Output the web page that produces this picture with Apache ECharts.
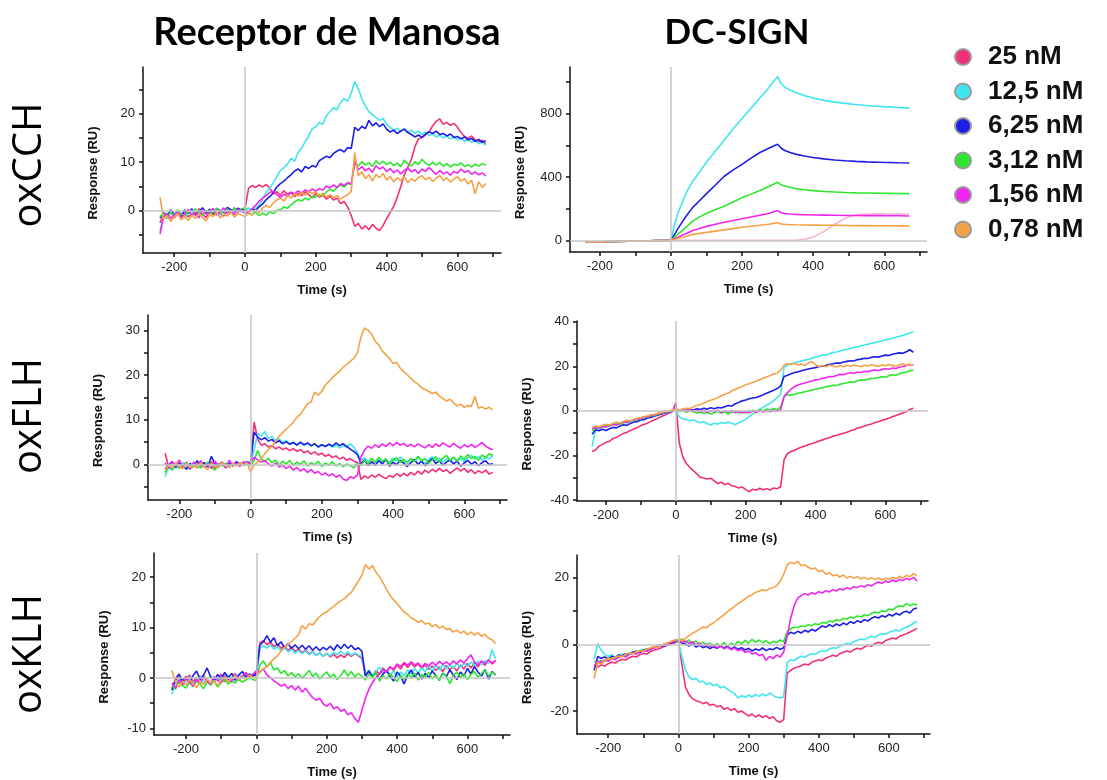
<!DOCTYPE html>
<html>
<head>
<meta charset="utf-8">
<script src="https://cdn.jsdelivr.net/npm/echarts@6/dist/echarts.min.js"></script>
<style>
html,body{margin:0;padding:0;background:#fff;}
#chart{width:1107px;height:780px;}
</style>
</head>
<body>
<div id="chart"></div>
<script>
// ---------- DATA ----------
const seriesNames = ['25 nM', '12,5 nM', '6,25 nM', '3,12 nM', '1,56 nM', '0,78 nM'];
const columnTitles = ['Receptor de Manosa', 'DC-SIGN'];
const rowTitles = ['oxCCH', 'oxFLH', 'oxKLH'];

// sampling times (s) of the noisy sensorgrams
const timeS = [-240,-230,-220,-210,-200,-190,-180,-170,-160,-150,-140,-130,-120,-110,-100,-90,-80,-70,-60,-50,-40,-30,-20,-10,
0,10,20,30,40,50,60,70,80,90,100,110,120,130,140,150,160,170,180,190,200,210,220,230,240,250,260,270,280,290,300,
310,320,330,340,350,360,370,380,390,400,410,420,430,440,450,460,470,480,490,500,510,520,530,540,550,560,570,580,590,600,610,620,630,640,650,660,670,680];
// sampling times (s) of the smooth oxCCH / DC-SIGN curves
const timeCchDc = [-240,-200,-160,-120,-80,-40,0,5,10,20,30,45,60,80,100,125,150,175,200,225,250,275,300,305,310,320,335,350,375,400,430,460,490,520,550,580,610,640,670];

// oxCCH - Receptor de Manosa
const cch_mr_25 = [-2.5,-0.8,-1.2,-0.3,-1.5,-0.6,-1.0,0.2,-1.3,-0.5,-0.9,0.4,-0.7,-1.4,-0.2,-0.8,0.3,-0.6,-1.1,0.1,-0.4,0.6,-0.3,0.2,
0.3,4.6,5.2,4.8,5.3,4.9,5.4,4.7,3.5,3.9,3.2,4.1,3.4,3.8,2.9,3.6,3.1,3.9,3.3,2.7,3.5,2.8,3.2,2.4,3.0,2.2,2.6,1.5,1.9,0.8,-1.0,
-3.2,-2.6,-3.8,-3.1,-3.9,-2.8,-3.6,-4.1,-3.0,-1.6,-0.4,0.9,2.8,5.0,7.4,9.0,10.6,13.2,14.8,15.1,15.6,16.2,17.5,18.4,18.9,17.8,18.2,17.6,18.0,17.2,16.1,15.3,14.9,15.4,14.6,14.2,14.5,13.8];
const cch_mr_12 = [-4.2,-1.0,-1.6,-0.5,-1.2,-0.2,-0.9,-1.5,-0.4,-0.8,0.3,-0.6,-1.0,-0.1,-0.7,0.2,-0.5,-0.9,0.4,-0.3,0.1,-0.4,0.5,-0.2,
0.2,0.6,-0.2,0.5,1.2,2.4,3.9,4.6,5.8,7.1,8.3,8.9,9.6,10.8,10.2,12.0,12.9,14.2,15.4,16.9,17.3,18.2,17.8,19.6,20.4,21.2,20.8,22.3,23.1,22.6,24.2,
26.6,25.1,23.0,21.6,20.4,19.8,19.2,18.6,19.0,17.8,17.2,16.5,17.0,16.3,16.9,16.1,16.6,15.9,16.4,15.7,16.2,15.5,15.9,15.2,15.6,15.0,15.4,14.8,15.2,14.6,15.0,14.3,14.7,14.1,14.5,13.8,14.1,13.5];
const cch_mr_625 = [-1.5,-0.4,-1.1,0.2,-0.7,-0.3,-1.2,0.1,-0.5,0.4,-0.8,-0.2,0.6,-0.4,0.3,-0.6,0.5,0.0,-0.3,0.7,0.2,-0.1,0.5,0.1,
0.3,-0.2,0.4,0.1,0.8,1.4,2.3,2.9,3.7,4.9,5.6,6.1,6.8,7.4,8.2,8.6,8.0,9.1,8.7,9.3,9.0,10.3,10.8,11.2,10.9,11.8,12.3,12.6,12.1,13.0,12.8,
17.2,16.5,17.4,16.9,18.6,17.5,18.1,17.3,17.9,16.8,16.2,16.6,15.9,16.4,16.8,16.1,15.7,15.2,15.6,15.1,15.8,16.3,15.9,16.4,15.7,15.9,15.4,15.8,15.1,15.3,14.8,15.2,14.6,14.9,14.3,14.7,14.1,14.4];
const cch_mr_312 = [-1.2,-0.6,-1.4,-0.3,-0.9,0.2,-0.7,-1.1,-0.2,-0.8,0.4,-0.5,-1.0,0.1,-0.6,-0.3,0.5,-0.4,-0.1,0.3,-0.5,0.6,-0.2,0.4,
0.6,-0.4,-0.8,-0.3,-1.0,-0.5,-0.9,-0.2,-0.6,0.1,0.2,0.8,0.5,1.2,1.8,2.3,2.0,2.6,2.2,3.0,2.8,3.4,3.1,3.9,4.4,4.0,4.8,5.3,4.9,5.6,5.4,
9.8,9.2,10.1,9.4,9.9,9.1,10.3,9.6,10.2,9.5,10.0,9.3,9.8,9.1,10.4,9.7,9.2,10.1,9.5,10.6,9.8,9.3,10.0,9.4,9.9,9.2,9.7,9.0,9.6,9.3,9.9,9.1,9.5,9.0,9.6,9.2,9.7,9.4];
const cch_mr_156 = [-4.8,-1.3,-0.5,-1.6,-0.8,-0.2,-1.4,-0.6,0.3,-1.0,-0.4,-1.5,0.2,-0.7,-0.3,0.5,-0.9,-0.2,0.6,-0.5,0.1,-0.8,0.3,0.0,
-0.5,-0.2,0.4,1.1,2.0,2.6,3.1,3.8,4.0,3.3,2.7,3.4,3.0,3.8,3.5,4.1,3.6,4.3,3.9,4.5,4.0,4.6,4.2,5.1,4.7,5.3,4.8,5.6,5.2,5.8,5.5,
10.2,8.4,9.1,8.2,8.8,7.9,9.3,8.6,9.0,8.1,8.7,7.8,8.4,7.6,8.3,8.8,8.0,8.5,7.7,8.6,8.1,8.9,8.2,7.5,8.3,7.6,8.0,7.3,8.1,7.7,8.6,7.9,8.3,7.5,8.0,7.4,7.8,7.2];
const cch_mr_078 = [2.8,-1.8,-1.0,-2.2,-1.3,-0.6,-1.9,-1.1,-2.0,-0.9,-1.6,-0.5,-1.4,-2.1,-0.8,-1.2,-0.4,-1.5,-0.7,-1.1,-0.3,-1.3,-0.6,-0.9,
-1.2,-0.5,-0.9,0.2,-0.4,0.6,1.1,0.7,1.6,2.2,2.6,2.0,3.1,2.6,3.5,3.0,3.8,3.2,4.0,3.5,3.9,3.0,3.6,2.8,3.3,2.7,3.1,2.4,2.9,3.3,4.0,
12.0,7.2,8.0,6.6,7.4,6.1,7.5,6.8,7.7,6.3,7.1,5.9,6.8,6.2,7.0,5.8,6.6,6.1,6.9,7.2,6.4,6.9,6.0,6.7,7.3,6.2,6.8,5.9,6.5,7.0,6.1,6.6,5.5,6.3,3.5,6.0,4.8,5.6];

// oxCCH - DC-SIGN
const cch_dc_25 = [-14,-11,-9,-6,-4,-2,0,0,0,0,0,0,0,0,0,0,0,0,0,0,0,0,0,0,0,0,0,0,6,20,55,100,140,162,166,167,166,167,166];
const cch_dc_12 = [-12,-10,-8,-6,-4,-2,0,50,100,175,230,310,370,430,495,565,635,705,770,835,900,965,1036,1010,990,968,950,935,915,900,885,874,866,859,853,848,844,840,836];
const cch_dc_625 = [-12,-10,-8,-6,-4,-2,0,18,38,75,110,160,205,250,295,350,405,445,480,520,555,582,608,595,582,568,555,545,533,524,515,508,503,499,496,494,492,490,489];
const cch_dc_312 = [-12,-10,-8,-6,-4,-2,0,10,20,40,58,88,120,148,170,195,216,242,270,292,315,340,367,358,350,343,335,328,320,314,309,305,302,300,299,298,297,296,295];
const cch_dc_156 = [-12,-10,-8,-6,-4,-2,0,5,10,20,30,45,60,74,88,102,114,125,136,147,158,170,188,180,174,169,166,164,162,160,159,158,157,157,156,156,155,155,154];
const cch_dc_078 = [-12,-10,-8,-6,-4,-2,0,3,6,12,18,26,36,44,50,58,66,74,83,89,95,102,112,106,103,101,99,98,97,96,95,95,94,93,93,92,92,91,91];

// oxFLH - Receptor de Manosa
const flh_mr_25 = [2.5,-0.6,-1.2,0.3,-0.8,-0.2,0.5,-1.0,-0.3,0.4,-0.7,0.1,-0.5,0.6,-0.9,-0.1,0.3,-0.6,0.2,-0.4,0.5,-0.2,0.1,0.4,
0.2,9.5,5.6,4.3,4.6,3.9,4.2,3.5,3.9,3.3,3.7,3.1,3.5,2.9,3.3,2.6,3.0,2.3,2.8,2.1,2.5,1.8,2.2,1.5,1.9,1.2,1.6,0.9,1.3,0.7,0.4,
-3.4,-2.6,-3.1,-2.4,-2.9,-2.2,-2.8,-3.2,-2.5,-2.9,-2.1,-2.7,-2.0,-2.6,-1.8,-2.4,-1.5,-2.2,-1.3,-1.9,-1.1,-1.7,-0.9,-1.6,-1.2,-2.0,-1.4,-0.8,-1.5,-0.9,-1.8,-1.2,-2.1,-1.4,-1.9,-1.3,-2.2,-1.8];
const flh_mr_12 = [-2.8,-0.5,-1.3,-0.2,-0.9,0.4,-0.6,-1.1,0.2,-0.4,-0.8,0.3,-0.3,-0.9,0.1,-0.5,0.5,-0.2,-0.7,0.3,-0.1,0.4,-0.3,0.2,
0.5,3.2,7.0,6.3,7.4,5.9,6.2,5.4,5.7,4.9,5.3,4.6,5.0,4.4,4.9,4.2,4.7,4.1,4.6,3.9,4.4,4.0,4.5,3.8,4.3,3.7,4.2,3.9,4.6,3.8,2.6,
0.8,1.5,0.6,1.3,0.4,1.1,0.2,1.0,0.5,1.4,0.7,1.6,0.9,0.3,1.2,0.6,1.5,0.8,0.2,1.1,1.7,0.9,1.4,0.5,1.2,0.7,1.6,0.9,1.3,0.6,1.5,2.0,1.1,1.8,0.9,1.6,1.2,1.9];
const flh_mr_625 = [-1.0,-0.2,0.6,-0.7,0.3,-0.4,-1.1,0.2,-0.5,0.8,-0.3,0.4,-0.6,1.8,0.1,-0.4,0.5,-0.8,0.2,-0.3,0.6,-0.1,0.3,0.5,
0.3,7.2,6.1,5.5,6.0,5.2,5.6,4.8,5.3,4.6,5.1,4.5,4.9,4.3,5.0,4.4,4.8,4.2,4.6,3.9,4.4,4.0,4.5,4.1,4.8,4.2,4.6,4.0,3.4,2.9,2.2,
0.2,1.0,-0.3,0.6,-0.2,0.8,0.1,1.2,-0.4,0.5,-0.1,0.9,0.3,-0.5,0.4,1.1,0.0,0.7,-0.3,0.6,1.3,0.2,0.8,-0.2,0.5,1.0,0.1,0.7,-0.4,0.3,0.9,0.0,0.6,-0.3,0.4,0.8,-0.1,0.2];
const flh_mr_312 = [-1.8,-0.4,-1.2,0.2,-0.9,-0.3,0.4,-1.0,-0.5,0.3,-0.8,-0.2,0.5,-0.6,-1.3,0.1,-0.4,0.3,-0.7,0.2,-0.3,0.4,-0.2,0.1,
-0.2,0.8,3.1,1.2,0.6,1.4,0.3,1.0,-0.2,0.7,0.1,0.9,-0.3,0.5,0.0,0.8,-0.4,0.4,-0.1,0.7,-0.5,0.3,-0.2,0.6,-0.4,0.2,-0.6,0.1,-0.3,-0.8,0.2,
-0.3,0.9,0.2,1.3,0.5,1.6,0.7,1.2,0.1,0.9,1.5,0.4,1.1,0.3,1.4,0.6,1.8,0.8,1.3,0.2,1.0,1.7,0.5,1.4,2.0,0.9,1.6,0.7,1.9,1.1,2.2,1.3,1.8,0.9,2.1,1.5,2.4,2.0];
const flh_mr_156 = [0.3,-0.9,0.6,-0.4,1.0,-0.7,0.2,-1.1,0.5,-0.3,0.8,-0.6,0.1,-0.9,0.7,-0.2,0.4,-0.8,0.9,-0.1,0.3,-0.5,0.6,0.0,
0.4,1.6,1.0,0.5,0.8,0.1,-0.4,0.3,-0.6,-0.2,-0.9,-0.4,-1.3,-0.7,-1.5,-1.0,-1.8,-1.2,-2.0,-1.6,-2.4,-1.9,-2.6,-2.1,-2.9,-2.4,-3.3,-3.6,-2.8,-3.1,-2.4,
1.6,3.2,4.1,3.6,4.4,3.8,4.6,4.0,4.8,4.2,4.9,4.3,4.7,4.0,4.5,3.9,4.6,4.1,3.7,4.4,3.8,4.6,4.0,4.8,4.3,3.9,4.7,4.1,3.6,4.4,3.9,4.5,3.8,4.3,4.9,4.1,3.6,3.3];
const flh_mr_078 = [-1.3,-0.2,-0.8,0.4,-0.5,-1.0,0.2,-0.7,-0.1,-0.9,0.3,-0.6,-1.2,0.1,-0.4,-0.8,0.5,-0.3,-0.7,0.2,-0.4,0.3,-0.1,0.4,
-1.8,-0.2,0.6,1.3,2.4,3.3,4.1,5.2,6.3,7.1,7.9,8.6,9.4,10.6,11.2,12.4,13.6,14.0,16.2,15.5,16.4,17.8,18.6,19.5,20.2,20.9,21.8,22.4,23.1,23.8,25.0,
28.6,30.6,30.1,29.2,27.6,26.8,25.4,24.6,23.8,22.6,22.9,21.6,20.8,20.1,19.3,18.5,18.0,17.2,16.8,16.4,15.9,16.2,15.3,14.8,14.2,14.6,13.8,13.1,13.5,12.8,13.2,13.0,15.2,12.6,12.9,12.4,12.8,12.2];

// oxFLH - DC-SIGN
const flh_dc_25 = [-18.2,-17.5,-15.8,-15.0,-14.1,-13.6,-12.4,-11.9,-11.0,-10.1,-9.6,-8.8,-8.1,-7.5,-6.6,-6.0,-5.4,-4.6,-3.9,-3.2,-2.4,-1.8,-1.0,-0.4,
3.8,-14.5,-20.6,-23.6,-25.3,-26.8,-28.2,-29.8,-30.1,-30.5,-30.2,-31.4,-32.6,-32.0,-33.1,-32.4,-33.6,-33.9,-34.6,-34.1,-35.3,-36.2,-35.1,-35.6,-34.7,-35.4,-34.9,-35.5,-34.6,-34.9,-34.0,
-21.8,-19.1,-18.2,-17.6,-16.9,-16.2,-15.8,-15.1,-14.6,-14.2,-13.5,-13.0,-12.4,-12.0,-11.3,-11.0,-10.5,-10.0,-9.6,-8.9,-8.5,-7.7,-7.4,-6.8,-6.3,-5.9,-5.2,-4.9,-4.2,-3.8,-3.3,-2.6,-2.1,-1.5,-0.9,-0.3,0.6,1.2];
const flh_dc_12 = [-16.0,-8.4,-8.0,-7.3,-7.0,-6.6,-6.1,-6.3,-5.6,-5.1,-5.3,-4.6,-4.2,-3.6,-3.5,-3.0,-2.6,-2.2,-2.1,-1.5,-1.1,-0.9,-0.4,0.1,
0.3,-2.8,-3.5,-3.9,-4.4,-4.0,-4.8,-5.3,-4.9,-5.8,-6.3,-5.5,-5.9,-5.2,-5.7,-5.0,-5.6,-6.1,-5.3,-4.6,-3.8,-2.5,-1.4,-0.3,0.8,1.6,2.5,3.4,4.6,5.8,7.4,
19.6,20.4,21.1,21.5,22.0,22.3,22.8,23.1,23.6,24.2,24.5,25.1,25.0,25.6,26.2,26.4,26.9,27.3,27.6,28.1,28.4,28.6,29.2,29.5,29.9,30.3,30.6,31.0,31.3,31.9,32.1,32.6,33.0,33.5,33.8,34.4,34.9,35.4];
const flh_dc_625 = [-10.5,-8.6,-8.9,-8.2,-8.8,-8.0,-7.4,-7.6,-6.8,-6.2,-6.5,-5.6,-5.0,-4.8,-4.1,-3.9,-3.2,-2.8,-2.3,-1.8,-1.4,-0.9,-0.5,0.0,
0.6,0.1,0.4,0.2,0.7,0.4,0.9,0.6,1.2,0.8,1.4,1.0,1.5,1.3,1.9,2.4,2.1,3.2,3.8,4.5,4.9,5.4,5.8,6.0,6.6,7.2,7.9,8.6,9.2,10.0,11.2,
15.4,16.0,16.6,17.2,17.5,18.0,18.4,18.8,19.1,19.4,19.9,20.0,20.4,20.9,21.1,21.5,21.4,21.9,22.2,22.5,22.4,23.0,23.2,23.6,23.5,24.0,24.3,24.1,24.6,25.0,24.8,25.4,25.7,26.0,25.8,26.5,27.4,26.3];
const flh_dc_312 = [-9.0,-7.5,-7.9,-7.1,-6.7,-6.9,-6.2,-5.8,-6.0,-5.3,-4.8,-4.9,-4.2,-3.8,-3.6,-3.0,-2.7,-2.2,-2.0,-1.5,-1.1,-0.7,-0.3,0.2,
0.4,-0.3,0.2,-0.6,0.1,-0.4,-1.0,-0.5,-1.2,-0.6,-1.4,-0.8,-0.3,-1.1,-0.5,-1.3,-0.7,-0.2,-1.0,-0.4,-0.9,-0.2,0.3,-0.4,0.5,0.1,0.8,0.3,1.1,0.6,1.8,
6.6,7.3,7.0,7.6,7.9,8.2,8.6,8.9,9.4,9.7,10.0,10.4,10.8,11.1,11.5,11.4,11.9,12.3,12.6,13.0,12.8,13.5,13.9,13.7,14.2,14.6,14.5,15.0,15.3,15.1,15.8,16.2,16.0,16.7,17.1,17.4,17.9,18.3];
const flh_dc_156 = [-8.0,-7.4,-7.6,-6.9,-7.2,-6.5,-6.0,-6.3,-5.5,-5.0,-5.2,-4.4,-4.0,-3.7,-3.3,-2.8,-2.5,-2.0,-1.7,-1.2,-0.9,-0.5,-0.2,0.3,
0.8,0.2,0.6,-0.1,0.5,-0.3,0.4,-0.5,0.2,-0.6,0.1,-0.4,0.3,-0.7,0.0,-0.5,0.2,-0.8,-0.2,-1.0,-0.3,-0.9,-0.1,-0.7,0.2,-0.5,0.1,-0.4,0.3,-0.2,0.5,
6.4,8.2,9.8,10.9,11.6,12.2,12.5,13.1,13.4,13.9,14.1,14.6,14.9,15.4,15.3,15.9,16.4,16.2,16.8,17.1,16.9,17.4,17.2,17.8,17.6,18.1,18.4,18.0,18.6,18.9,18.7,19.2,19.0,19.6,19.9,20.3,20.8,20.5];
const flh_dc_078 = [-7.5,-6.8,-7.2,-6.4,-6.0,-6.3,-5.6,-5.1,-5.4,-4.7,-4.2,-4.5,-3.8,-3.3,-3.0,-2.5,-2.2,-1.7,-1.5,-1.0,-0.6,-0.3,0.1,0.4,
0.6,0.3,0.9,1.2,1.0,1.8,2.4,2.9,3.4,4.2,4.8,5.3,5.9,6.8,7.5,7.9,9.0,9.6,10.4,10.9,11.8,12.2,12.8,13.3,14.0,14.6,15.2,15.9,16.5,17.0,18.2,
20.5,21.2,20.8,21.4,20.6,21.0,20.3,21.6,22.1,20.7,19.9,20.4,19.8,20.6,20.1,19.7,20.3,19.8,20.5,20.0,20.6,20.2,19.8,20.5,20.1,20.7,20.3,19.9,20.6,20.2,20.8,20.4,20.0,20.6,21.1,20.5,21.0,20.3];

// oxKLH - Receptor de Manosa
const klh_mr_25 = [-2.0,-0.5,0.3,-1.2,-0.3,0.6,-0.8,0.1,-1.0,0.4,-0.6,-1.3,0.2,-0.4,0.8,-0.7,0.3,-0.2,0.9,-0.5,0.4,1.1,0.2,0.7,
1.0,7.0,7.4,6.6,7.1,6.2,6.8,5.9,6.3,5.5,6.1,5.3,5.8,5.0,5.6,4.8,5.3,4.5,5.0,4.3,4.9,4.2,4.7,4.0,4.6,4.1,4.8,4.3,4.9,4.4,3.9,
0.6,1.3,0.4,1.5,0.8,2.0,1.2,2.3,1.5,2.6,1.8,2.9,2.1,3.0,2.2,2.8,1.9,2.6,1.7,2.4,1.5,2.2,1.3,2.5,1.6,2.3,1.4,2.6,1.8,2.9,2.0,3.1,2.2,3.3,2.5,3.6,2.8,3.4];
const klh_mr_12 = [-3.2,-1.0,-0.3,-1.5,-0.6,0.2,-1.1,-0.4,0.5,-0.8,-0.2,0.4,-0.9,0.1,-0.5,0.6,-0.3,0.3,-0.6,0.8,0.0,0.5,-0.2,0.4,
0.6,5.8,6.4,5.9,6.6,5.7,6.2,5.4,6.0,5.2,5.7,4.9,5.5,4.8,5.4,4.6,5.2,4.5,5.0,4.3,4.9,4.4,5.1,4.6,5.3,4.7,5.2,4.5,5.0,4.6,4.2,
0.8,1.6,0.5,1.3,2.2,0.9,1.7,0.6,1.4,0.3,1.2,0.5,1.6,0.8,1.9,1.0,2.1,1.2,2.3,1.4,2.5,1.6,2.7,1.8,2.6,2.0,2.9,2.1,3.0,2.3,3.2,2.5,3.4,2.6,3.5,2.9,5.6,3.8];
const klh_mr_625 = [-2.4,-0.2,0.8,-0.6,0.3,-1.0,0.5,1.4,-0.3,0.6,2.0,0.2,-0.5,0.7,-0.2,1.1,0.1,0.9,-0.4,0.6,1.3,0.2,0.8,0.4,
0.8,6.5,7.2,8.4,7.1,8.0,6.4,7.2,6.0,6.8,5.9,6.6,5.8,6.5,5.7,6.4,5.5,6.2,5.4,6.1,5.6,6.3,5.5,6.6,5.8,6.7,5.9,6.5,5.6,6.0,5.3,
0.4,1.4,0.2,1.0,-0.3,0.8,1.5,0.3,-0.6,1.2,0.4,-1.2,0.6,1.6,0.2,1.1,-0.2,0.9,0.1,1.4,0.5,-0.4,1.0,0.3,1.6,0.6,-0.3,1.2,0.4,1.9,0.8,2.3,1.2,0.4,1.7,-0.2,1.3,0.6];
const klh_mr_312 = [-1.6,-2.2,-0.8,-1.5,-2.0,-0.9,-1.7,-0.6,-1.3,-2.1,-0.7,-1.4,-0.5,-1.8,-0.9,-0.3,-1.2,-0.6,-1.0,-0.2,-0.8,-0.4,0.1,-0.3,
-0.5,2.6,3.4,2.2,3.1,1.6,2.0,0.9,1.5,0.4,1.1,0.2,0.9,-0.1,0.7,1.5,0.3,1.0,-0.2,0.6,1.2,0.1,0.8,-0.3,0.5,1.6,0.4,1.3,0.2,0.9,0.3,
-0.4,0.8,0.1,1.1,-0.6,0.5,-0.2,0.9,0.0,-0.7,0.6,-0.3,0.8,0.1,1.0,-0.4,0.7,0.2,1.1,-0.2,0.6,-0.5,0.9,0.3,-1.1,0.5,1.2,0.1,0.8,-0.3,0.7,1.3,0.2,0.9,1.6,0.4,1.1,0.7];
const klh_mr_156 = [-1.0,-2.0,-0.4,-1.3,0.2,-0.8,-1.6,-0.3,-1.0,0.1,-0.6,-1.2,0.3,-0.5,-0.9,0.4,-0.2,-0.7,0.6,-0.1,0.3,1.0,0.2,0.8,
1.4,1.2,1.8,0.6,0.1,-0.6,-1.0,-1.6,-1.2,-2.1,-1.5,-2.4,-1.6,-2.8,-2.0,-3.0,-3.9,-4.4,-4.0,-5.1,-5.6,-5.0,-6.1,-5.7,-6.6,-6.2,-7.3,-6.9,-8.0,-8.8,-6.4,
-4.0,-2.2,-0.9,0.1,0.8,1.6,1.2,2.2,1.8,2.8,2.3,3.1,2.5,3.2,2.6,3.0,2.2,2.9,2.4,3.1,2.5,3.3,2.7,3.2,2.6,3.4,2.8,3.6,3.0,3.8,4.6,3.2,2.6,3.4,2.8,3.6,3.0,3.5];
const klh_mr_078 = [1.5,-0.8,-1.8,-0.6,-1.4,-0.3,-1.1,-1.9,-0.7,-1.3,-0.2,-1.0,-0.5,-1.5,-0.4,0.2,-0.8,-0.1,0.5,-0.4,0.3,-0.2,0.6,0.1,
0.3,1.2,1.9,2.3,3.1,3.8,4.4,5.3,6.1,6.6,7.2,7.9,8.6,10.4,9.7,10.8,10.5,11.4,12.2,12.8,13.1,13.7,14.2,14.8,15.3,15.7,16.4,17.0,18.1,19.2,20.4,
22.5,21.6,22.3,21.0,20.1,18.9,17.6,16.4,15.5,14.8,13.9,13.1,12.6,11.9,11.6,11.0,11.4,10.7,10.9,10.2,10.6,9.9,10.3,9.6,9.8,9.1,9.5,8.9,9.3,8.6,9.1,8.5,9.0,8.3,8.7,7.9,7.6,6.8];

// oxKLH - DC-SIGN
const klh_dc_25 = [-6.0,-6.8,-6.2,-6.5,-5.8,-5.4,-5.6,-4.9,-4.5,-4.7,-4.0,-3.6,-3.8,-3.1,-2.7,-2.9,-2.2,-1.8,-1.5,-1.1,-0.6,-0.3,0.2,0.5,
1.0,-6.0,-12.8,-15.0,-16.3,-16.9,-17.2,-17.8,-17.4,-18.3,-18.0,-18.7,-18.4,-19.5,-19.0,-19.8,-19.3,-20.4,-20.0,-20.8,-21.5,-20.9,-21.8,-21.2,-22.0,-21.4,-22.3,-21.7,-22.9,-23.4,-22.6,
-8.6,-7.8,-7.1,-6.8,-6.4,-5.9,-6.2,-5.4,-5.0,-4.6,-4.9,-4.1,-3.7,-3.3,-3.6,-2.8,-2.4,-2.0,-2.3,-1.6,-1.2,-1.5,-0.8,-0.3,-0.6,0.2,0.6,0.3,1.1,1.5,1.9,1.6,2.4,2.8,3.2,3.7,4.2,4.8];
const klh_dc_12 = [-4.5,0.2,-1.8,-3.0,-3.6,-3.2,-3.9,-3.3,-2.9,-3.1,-2.5,-2.2,-2.4,-1.8,-1.5,-1.7,-1.1,-0.8,-0.6,-0.2,0.1,0.4,0.7,1.2,
0.6,-3.8,-7.6,-9.8,-10.6,-10.2,-11.3,-11.0,-12.1,-11.6,-12.4,-12.0,-13.1,-12.6,-13.5,-14.2,-14.8,-16.1,-15.4,-15.9,-15.2,-15.8,-15.0,-15.6,-14.9,-15.5,-14.6,-15.3,-15.9,-16.1,-15.8,
-5.4,-4.6,-4.9,-4.1,-3.6,-3.9,-3.2,-2.8,-3.0,-2.3,-1.9,-2.1,-1.4,-1.0,-1.2,-0.5,-0.1,0.3,0.1,0.8,1.2,1.6,1.4,2.0,2.4,2.1,2.8,3.2,3.0,3.6,3.9,4.3,4.0,4.7,5.2,5.6,6.4,6.9];
const klh_dc_625 = [-7.8,-3.6,-4.2,-3.8,-4.4,-3.6,-3.9,-3.2,-3.5,-2.8,-3.0,-2.4,-2.1,-2.5,-1.8,-1.4,-1.6,-1.0,-0.7,-0.3,-0.5,0.2,0.5,0.8,
1.0,0.4,0.0,-0.5,0.2,-0.8,-0.3,-1.0,-0.6,-1.3,-0.7,-1.2,-0.5,-1.1,-0.6,-1.4,-0.8,-1.5,-1.0,-1.7,-1.2,-2.0,-1.4,-1.8,-1.1,-1.9,-1.3,-1.6,-0.9,-1.5,-1.0,
2.8,3.6,3.2,3.9,3.4,4.2,3.7,4.5,4.0,4.8,5.5,5.1,5.9,5.3,6.1,5.6,6.4,5.9,6.8,6.3,7.1,6.6,7.4,7.0,7.8,8.3,7.9,8.6,8.2,9.0,8.5,9.3,8.8,9.6,9.9,9.4,10.6,10.9];
const klh_dc_312 = [-5.0,-5.6,-4.8,-5.2,-4.5,-4.1,-4.4,-3.7,-3.4,-3.6,-2.9,-2.6,-2.8,-2.1,-1.8,-2.0,-1.3,-1.0,-0.7,-0.4,0.0,0.4,0.8,1.1,
0.8,1.6,0.5,1.3,0.2,1.0,-0.2,0.7,-0.4,0.4,-0.6,0.2,-0.3,0.5,-0.5,0.3,-0.2,0.9,0.1,1.2,0.3,1.5,0.6,1.3,0.4,1.1,0.2,0.9,0.5,1.3,0.8,
3.8,4.6,5.2,5.0,5.6,5.3,5.9,5.6,6.2,5.9,6.6,6.3,7.0,6.7,7.4,7.1,7.8,7.5,8.2,7.9,8.5,8.2,8.9,8.6,9.3,9.7,9.4,10.1,9.8,10.6,10.3,11.1,11.6,11.3,12.2,11.6,12.1,11.8];
const klh_dc_156 = [-6.5,-5.0,-5.5,-4.7,-5.1,-4.3,-4.6,-3.9,-3.5,-3.8,-3.0,-2.7,-2.9,-2.2,-1.9,-2.1,-1.4,-1.1,-0.8,-0.5,-0.1,0.3,0.6,1.0,
1.2,0.6,1.0,0.3,0.8,-0.2,0.4,-0.5,0.1,-0.7,-0.2,-1.0,-0.5,-1.3,-0.8,-1.6,-1.1,-1.9,-1.5,-2.4,-2.0,-2.9,-2.5,-3.4,-3.0,-4.8,-3.6,-4.3,-3.2,-3.8,-2.4,
2.5,7.8,11.6,13.9,14.6,15.2,14.8,15.5,15.1,15.8,15.4,16.1,15.7,16.4,16.0,16.7,16.3,17.0,16.6,17.3,17.0,17.6,17.2,17.9,17.5,18.2,18.7,18.3,19.0,18.6,19.3,18.8,19.5,19.1,19.8,19.4,20.1,19.0];
const klh_dc_078 = [-10.2,-5.4,-6.0,-4.9,-4.2,-4.6,-3.8,-3.5,-3.8,-2.9,-2.6,-2.9,-2.2,-1.9,-2.1,-1.4,-1.1,-0.7,-0.9,-0.3,0.1,0.5,0.9,1.3,
1.5,1.0,1.8,2.6,3.3,3.9,4.5,5.2,5.0,5.9,6.4,7.3,8.1,8.9,9.8,10.6,11.4,12.2,12.9,13.6,14.4,14.9,15.6,15.9,16.4,16.1,16.8,17.0,17.6,18.9,21.0,
23.8,24.6,24.2,24.9,23.6,23.9,23.1,22.6,22.9,21.8,22.2,21.0,21.5,20.6,20.9,20.2,20.8,19.9,20.4,19.8,20.3,19.6,20.1,19.5,20.0,19.4,19.9,19.3,19.8,19.5,20.1,19.6,20.4,19.9,20.7,20.3,21.2,20.6];

// tick marks / tick labels
const xTickValues = [-200,-100,0,100,200,300,400,500,600,700];
const xTickLabels = [-200,0,200,400,600];
const yTicksCchMr = [-5,0,5,10,15,20,25];    const yLabelsCchMr = [0,10,20];
const yTicksCchDc = [0,200,400,600,800,1000]; const yLabelsCchDc = [0,400,800];
const yTicksFlhMr = [-5,0,5,10,15,20,25,30]; const yLabelsFlhMr = [0,10,20,30];
const yTicksFlhDc = [-40,-30,-20,-10,0,10,20,30,40]; const yLabelsFlhDc = [-40,-20,0,20,40];
const yTicksKlhMr = [-10,-5,0,5,10,15,20];   const yLabelsKlhMr = [-10,0,10,20];
const yTicksKlhDc = [-20,-10,0,10,20];       const yLabelsKlhDc = [-20,0,20];

// ---------- LAYOUT / STYLE ----------
const colors = ['#f2307a', '#3fe6f0', '#1e1ee6', '#2ee62e', '#f026f0', '#f5a246'];
const panels = [
  {time: timeS, data: [cch_mr_25,cch_mr_12,cch_mr_625,cch_mr_312,cch_mr_156,cch_mr_078], yTicks: yTicksCchMr, yLabels: yLabelsCchMr,
   grid: {left:143, top:67, width:358, height:186}, xr:[-288,723], yr:[-8.7,29.6]},
  {time: timeCchDc, data: [cch_dc_25,cch_dc_12,cch_dc_625,cch_dc_312,cch_dc_156,cch_dc_078], yTicks: yTicksCchDc, yLabels: yLabelsCchDc,
   grid: {left:570, top:67, width:357, height:185}, xr:[-284,720], yr:[-74,1096], faintFirst:true},
  {time: timeS, data: [flh_mr_25,flh_mr_12,flh_mr_625,flh_mr_312,flh_mr_156,flh_mr_078], yTicks: yTicksFlhMr, yLabels: yLabelsFlhMr,
   grid: {left:148, top:315, width:359, height:185}, xr:[-288,720], yr:[-8,33.5]},
  {time: timeS, data: [flh_dc_25,flh_dc_12,flh_dc_625,flh_dc_312,flh_dc_156,flh_dc_078], yTicks: yTicksFlhDc, yLabels: yLabelsFlhDc,
   grid: {left:577, top:321, width:351, height:180}, xr:[-283,722], yr:[-40.4,40.3]},
  {time: timeS, data: [klh_mr_25,klh_mr_12,klh_mr_625,klh_mr_312,klh_mr_156,klh_mr_078], yTicks: yTicksKlhMr, yLabels: yLabelsKlhMr,
   grid: {left:154, top:553, width:356, height:183}, xr:[-291,721], yr:[-11.3,24.8]},
  {time: timeS, data: [klh_dc_25,klh_dc_12,klh_dc_625,klh_dc_312,klh_dc_156,klh_dc_078], yTicks: yTicksKlhDc, yLabels: yLabelsKlhDc,
   grid: {left:577, top:555, width:353, height:179}, xr:[-289,717], yr:[-26.9,26.8]}
];

const axisFont = '"Liberation Sans", Arial, sans-serif';
const grids = [], xAxes = [], yAxes = [], series = [];
panels.forEach((p, pi) => {
  grids.push(Object.assign({containLabel:false, show:false}, p.grid));
  xAxes.push({
    type:'value', gridIndex:pi, min:p.xr[0], max:p.xr[1],
    axisLine:{show:true, onZero:false, lineStyle:{color:'#111', width:1.5}},
    axisTick:{show:true, customValues:xTickValues, length:4, lineStyle:{color:'#111', width:1.5}},
    axisLabel:{customValues:xTickLabels, fontSize:13, color:'#222', fontFamily:axisFont, margin:8},
    splitLine:{show:false},
    name:'Time (s)', nameLocation:'middle', nameGap:31,
    nameTextStyle:{fontWeight:'bold', fontSize:13, color:'#111', fontFamily:axisFont}
  });
  yAxes.push({
    type:'value', gridIndex:pi, min:p.yr[0], max:p.yr[1],
    axisLine:{show:true, onZero:false, lineStyle:{color:'#111', width:1.5}},
    axisTick:{show:true, customValues:p.yTicks, length:4, lineStyle:{color:'#111', width:1.5}},
    axisLabel:{customValues:p.yLabels, fontSize:13, color:'#222', fontFamily:axisFont, margin:8},
    splitLine:{show:false},
    name:'Response (RU)', nameLocation:'middle', nameGap:43,
    nameTextStyle:{fontWeight:'bold', fontSize:13, color:'#111', fontFamily:axisFont, padding:[0,26,0,0]}
  });
  // zero reference lines (drawn beneath the curves)
  series.push({
    type:'line', name:'ref' + pi, xAxisIndex:pi, yAxisIndex:pi, data:[], silent:true,
    markLine:{silent:true, symbol:'none', label:{show:false}, animation:false,
      lineStyle:{color:'#c4c4c4', type:'solid', width:1.5},
      data:[{yAxis:0}, {xAxis:0}]}
  });
  p.data.forEach((arr, k) => {
    series.push({
      type:'line', name:seriesNames[k], xAxisIndex:pi, yAxisIndex:pi,
      data:p.time.map((t, i) => [t, arr[i]]),
      symbol:'none', showSymbol:false, animation:false,
      lineStyle:{width:1.6, color:colors[k], opacity:(p.faintFirst && k === 0) ? 0.35 : 1},
      itemStyle:{color:colors[k]}
    });
  });
});

const titleFont = 'Lato, "Open Sans", sans-serif';
const graphics = [
  {type:'text', x:327, y:33, style:{text:columnTitles[0], fontFamily:titleFont, fontWeight:'bold', fontSize:38, fill:'#000', align:'center', verticalAlign:'middle'}},
  {type:'text', x:737, y:33, style:{text:columnTitles[1], fontFamily:titleFont, fontWeight:'bold', fontSize:35, fill:'#000', align:'center', verticalAlign:'middle'}},
  {type:'text', x:30, y:165, rotation:Math.PI/2, style:{text:rowTitles[0], fontFamily:'"Open Sans", sans-serif', fontSize:40, fill:'#000', align:'center', verticalAlign:'middle'}},
  {type:'text', x:30, y:416, rotation:Math.PI/2, style:{text:rowTitles[1], fontFamily:'"Open Sans", sans-serif', fontSize:40, fill:'#000', align:'center', verticalAlign:'middle'}},
  {type:'text', x:30, y:654, rotation:Math.PI/2, style:{text:rowTitles[2], fontFamily:'"Open Sans", sans-serif', fontSize:40, fill:'#000', align:'center', verticalAlign:'middle'}}
];

const chart = echarts.init(document.getElementById('chart'), null, {renderer:'canvas'});
chart.setOption({
  animation:false,
  backgroundColor:'#ffffff',
  grid:grids, xAxis:xAxes, yAxis:yAxes, series:series,
  legend:{
    orient:'vertical', left:949, top:39, icon:'circle', itemWidth:16, itemHeight:16, itemGap:8.5,
    data:seriesNames,
    itemStyle:{borderColor:'#9a9a9a', borderWidth:2},
    textStyle:{fontFamily:'"Liberation Sans", Arial, sans-serif', fontWeight:'bold', fontSize:26, color:'#111', padding:[0,0,0,12]}
  },
  graphic:graphics
});
</script>
</body>
</html>
